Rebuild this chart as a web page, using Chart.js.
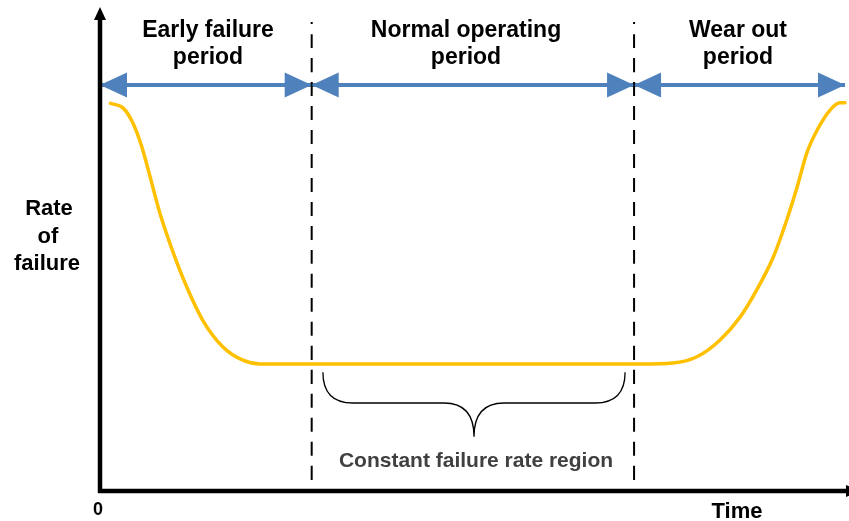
<!DOCTYPE html>
<html>
<head>
<meta charset="utf-8">
<script src="https://cdn.jsdelivr.net/npm/chart.js@4.4.1/dist/chart.umd.min.js"></script>
<style>
html, body { margin: 0; padding: 0; background: #fff; }
#wrap { width: 849px; height: 521px; }
</style>
</head>
<body>
<div id="wrap"><canvas id="bathtubChart"></canvas></div>
<script>
// bathtub curve, time and rate both on a 0-100 scale
const timeValues  = [1.4, 3.1, 4.4, 5.6, 6.7, 8.0, 9.8, 11.6, 13.7, 16.4, 19.1, 21.4, 72.2, 76.6, 79.8, 82.9, 85.6, 87.8, 90.0, 91.8, 93.2, 94.5, 95.9, 97.6, 98.9, 99.6];
const failureRate = [80.6, 79.6, 76.5, 71.5, 65.3, 57.8, 49.5, 42.4, 35.6, 30.0, 27.2, 26.4, 26.4, 26.6, 27.9, 31.4, 36.2, 41.8, 48.6, 56.3, 63.2, 70.3, 75.1, 79.2, 80.7, 80.7];

// period boundaries (dashed lines) and the span of the arrows
const boundaries = [28.3, 71.4];
const dashRange = [2.3, 97.5];
const arrowLevel = 84.4;
const periodEdges = [0, 28.3, 71.4, 99.6];
const periodNames = [['Early failure', 'period'], ['Normal operating', 'period'], ['Wear out', 'period']];

// brace under the flat part
const braceX = [29.8, 50.0, 70.2];
const braceY = [24.7, 18.3, 11.3];
const braceLabel = 'Constant failure rate region';

const yAxisLabel = ['Rate', 'of', 'failure'];
const xAxisLabel = 'Time';
const originLabel = '0';

const BLUE = '#4f81bd';
const GOLD = '#ffc000';

const datasets = [];
datasets.push({
  data: timeValues.map((t, i) => ({ x: t, y: failureRate[i] })),
  borderColor: GOLD,
  borderWidth: 3.5,
  borderCapStyle: 'round',
  cubicInterpolationMode: 'monotone',
  pointRadius: 0
});
boundaries.forEach(b => {
  datasets.push({
    data: [{ x: b, y: dashRange[0] }, { x: b, y: dashRange[1] }],
    borderColor: '#000',
    borderWidth: 2,
    borderDash: [14, 10],
    pointRadius: 0
  });
});
for (let i = 0; i < periodEdges.length - 1; i++) {
  datasets.push({
    data: [{ x: periodEdges[i], y: arrowLevel }, { x: periodEdges[i + 1], y: arrowLevel }],
    borderColor: BLUE,
    borderWidth: 4,
    pointRadius: 0
  });
}

const decorations = {
  id: 'decorations',
  afterDatasetsDraw(chart) {
    const c = chart.ctx;
    const xs = chart.scales.x, ys = chart.scales.y;
    const area = chart.chartArea;
    c.save();

    // arrow heads on the period arrows
    const ay = ys.getPixelForValue(arrowLevel);
    c.fillStyle = BLUE;
    const head = (tip, dir) => {
      c.beginPath();
      c.moveTo(tip, ay);
      c.lineTo(tip + dir * 27, ay - 12.5);
      c.lineTo(tip + dir * 27, ay + 12.5);
      c.closePath();
      c.fill();
    };
    for (let i = 0; i < periodEdges.length - 1; i++) {
      head(xs.getPixelForValue(periodEdges[i]), 1);
      head(xs.getPixelForValue(periodEdges[i + 1]), -1);
    }

    // axes
    c.strokeStyle = '#000';
    c.fillStyle = '#000';
    c.lineWidth = 4.5;
    c.beginPath();
    c.moveTo(area.left, area.bottom + 2);
    c.lineTo(area.left, 18);
    c.moveTo(area.left - 2, area.bottom);
    c.lineTo(846, area.bottom);
    c.stroke();
    c.beginPath();
    c.moveTo(area.left, 7);
    c.lineTo(area.left - 6, 20);
    c.lineTo(area.left + 6, 20);
    c.closePath();
    c.fill();
    c.beginPath();
    c.moveTo(860, area.bottom);
    c.lineTo(846, area.bottom - 6);
    c.lineTo(846, area.bottom + 6);
    c.closePath();
    c.fill();

    // brace
    const [l, m, r] = braceX.map(v => xs.getPixelForValue(v));
    const [top, mid, tip] = braceY.map(v => ys.getPixelForValue(v));
    c.lineWidth = 1.3;
    c.beginPath();
    c.moveTo(l, top);
    c.quadraticCurveTo(l, mid, l + 30, mid);
    c.lineTo(m - 30, mid);
    c.quadraticCurveTo(m, mid, m, tip);
    c.quadraticCurveTo(m, mid, m + 30, mid);
    c.lineTo(r - 30, mid);
    c.quadraticCurveTo(r, mid, r, top);
    c.stroke();

    // texts
    c.textAlign = 'center';
    c.textBaseline = 'alphabetic';
    c.fillStyle = '#000';
    c.font = 'bold 23px "Liberation Sans", Arial, sans-serif';
    const titleX = [208, 466, 738];
    periodNames.forEach((lines, i) => {
      c.fillText(lines[0], titleX[i], 37);
      c.fillText(lines[1], titleX[i], 64);
    });
    c.font = 'bold 22px "Liberation Sans", Arial, sans-serif';
    c.fillText(yAxisLabel[0], 49, 215);
    c.fillText(yAxisLabel[1], 48, 243);
    c.fillText(yAxisLabel[2], 47, 270);
    c.fillText(xAxisLabel, 737, 518);
    c.font = 'bold 18px "Liberation Sans", Arial, sans-serif';
    c.fillText(originLabel, 98, 515);
    c.fillStyle = '#404040';
    c.font = 'bold 21px "Liberation Sans", Arial, sans-serif';
    c.fillText(braceLabel, 476, 467);
    c.restore();
  }
};

new Chart(document.getElementById('bathtubChart'), {
  type: 'line',
  data: { datasets: datasets },
  options: {
    responsive: true,
    maintainAspectRatio: false,
    animation: false,
    layout: { padding: { left: 100, right: 1, top: 10, bottom: 30 } },
    scales: {
      x: { type: 'linear', min: 0, max: 100, display: false },
      y: { type: 'linear', min: 0, max: 100, display: false }
    },
    plugins: {
      legend: { display: false },
      tooltip: { enabled: false }
    },
    elements: { line: { tension: 0.4 } }
  },
  plugins: [decorations]
});
</script>
</body>
</html>
